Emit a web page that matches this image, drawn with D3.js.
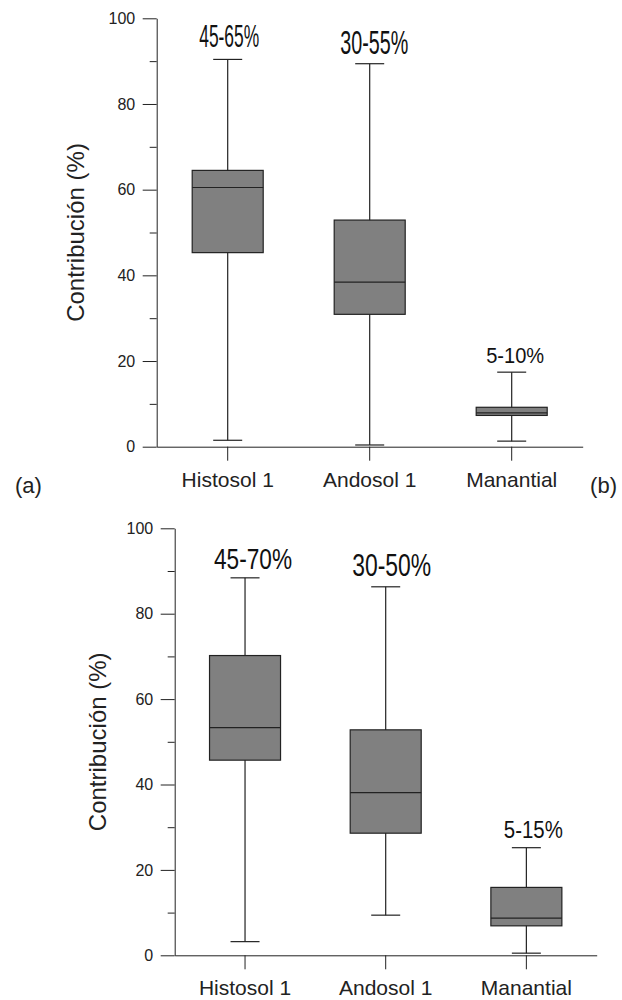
<!DOCTYPE html>
<html>
<head>
<meta charset="utf-8">
<script src="https://cdn.jsdelivr.net/npm/d3@7"></script>
<style>
  body { margin: 0; background: #fff; }
  svg { display: block; font-family: "Liberation Sans", Arial, sans-serif; }
</style>
</head>
<body>
<div id="chart"></div>
<script>
// categories shared by both panels
const categories = ["Histosol 1", "Andosol 1", "Manantial"];

// panel (a) box statistics
const topMin = [1.5, 0.4, 1.3];
const topQ1 = [45.3, 30.9, 7.3];
const topMedian = [60.5, 38.4, 7.9];
const topQ3 = [64.5, 52.9, 9.2];
const topMax = [90.4, 89.4, 17.4];
const topRanges = ["45-65%", "30-55%", "5-10%"];

// panel (b) box statistics
const botMin = [3.2, 9.4, 0.5];
const botQ1 = [45.7, 28.6, 6.9];
const botMedian = [53.3, 38.1, 8.7];
const botQ3 = [70.2, 52.8, 15.9];
const botMax = [88.4, 86.3, 25.2];
const botRanges = ["45-70%", "30-50%", "5-15%"];

const majorTicks = [0, 20, 40, 60, 80, 100];
const minorTicks = [10, 30, 50, 70, 90];

const svg = d3.select("#chart").append("svg")
    .attr("width", 622)
    .attr("height", 1000);

const ink = "#222";

function drawPanel(opt) {
    const rows = categories.map((c, i) => ({
        name: c, min: opt.min[i], q1: opt.q1[i], med: opt.median[i],
        q3: opt.q3[i], max: opt.max[i], label: opt.ranges[i], st: opt.labelStyle[i]
    }));

    const x = d3.scaleBand().domain(categories).range([opt.left, opt.right]).padding(0);
    const y = d3.scaleLinear().domain([0, 100]).range([opt.bottom, opt.top]);
    const g = svg.append("g");

    // x axis
    const xg = g.append("g")
        .attr("transform", `translate(0,${opt.bottom})`)
        .call(d3.axisBottom(x).tickSize(14).tickSizeOuter(0).tickPadding(11));
    xg.selectAll("text").attr("font-size", 21).attr("fill", ink).attr("font-family", "Liberation Sans, Arial, sans-serif");
    xg.selectAll("line, path").attr("stroke", ink);

    // y axis major + minor
    const yg = g.append("g")
        .attr("transform", `translate(${opt.left},0)`)
        .call(d3.axisLeft(y).tickValues(majorTicks).tickSize(14).tickSizeOuter(0).tickPadding(7.5));
    yg.selectAll("text").attr("font-size", 16).attr("fill", ink).attr("font-family", "Liberation Sans, Arial, sans-serif");
    yg.selectAll("line, path").attr("stroke", ink);

    const ym = g.append("g")
        .attr("transform", `translate(${opt.left},0)`)
        .call(d3.axisLeft(y).tickValues(minorTicks).tickSize(7).tickSizeOuter(0).tickFormat(""));
    ym.select(".domain").remove();
    ym.selectAll("line").attr("stroke", ink);

    // y label
    g.append("text")
        .attr("transform", `translate(${opt.yLabelX},${(opt.top + opt.bottom) / 2}) rotate(-90)`)
        .attr("text-anchor", "middle")
        .attr("font-size", 24)
        .attr("fill", ink)
        .text("Contribución (%)");

    const bw = 71, cw = 29;
    const boxes = g.append("g").selectAll("g").data(rows).join("g")
        .attr("transform", d => `translate(${x(d.name) + x.bandwidth() / 2},0)`);

    // whisker stems
    boxes.append("line")
        .attr("x1", 0).attr("x2", 0)
        .attr("y1", d => y(d.max)).attr("y2", d => y(d.min))
        .attr("stroke", ink).attr("stroke-width", 1.2);
    // caps
    boxes.selectAll(".cap").data(d => [d.min, d.max]).join("line")
        .attr("class", "cap")
        .attr("x1", -cw / 2).attr("x2", cw / 2)
        .attr("y1", v => y(v)).attr("y2", v => y(v))
        .attr("stroke", ink).attr("stroke-width", 1.2);
    // box
    boxes.append("rect")
        .attr("x", -bw / 2).attr("width", bw)
        .attr("y", d => y(d.q3)).attr("height", d => y(d.q1) - y(d.q3))
        .attr("fill", "#808080").attr("stroke", ink).attr("stroke-width", 1.2);
    // median
    boxes.append("line")
        .attr("x1", -bw / 2).attr("x2", bw / 2)
        .attr("y1", d => y(d.med)).attr("y2", d => y(d.med))
        .attr("stroke", ink).attr("stroke-width", 1.2);

    // range labels
    boxes.append("text")
        .attr("x", d => d.st.dx)
        .attr("y", d => y(d.max) - d.st.gap)
        .attr("text-anchor", "middle")
        .attr("font-family", "Liberation Sans Narrow, Liberation Sans, Arial, sans-serif")
        .attr("font-size", d => d.st.size)
        .attr("textLength", d => d.st.w)
        .attr("lengthAdjust", "spacingAndGlyphs")
        .attr("fill", "#111")
        .text(d => d.label);
}

drawPanel({
    min: topMin, q1: topQ1, median: topMedian, q3: topQ3, max: topMax, ranges: topRanges,
    left: 156.7, right: 582.7, top: 18.3, bottom: 446.7, yLabelX: 84,
    labelStyle: [
        {size: 32, w: 60, dx: 1.5, gap: 12.5},
        {size: 33, w: 68, dx: 4.5, gap: 10},
        {size: 22, w: 58, dx: 3.5, gap: 9}
    ]
});

drawPanel({
    min: botMin, q1: botQ1, median: botMedian, q3: botQ3, max: botMax, ranges: botRanges,
    left: 174.7, right: 596.7, top: 528.3, bottom: 955.3, yLabelX: 105.5,
    labelStyle: [
        {size: 29, w: 78, dx: 8, gap: 8.7},
        {size: 32, w: 79, dx: 6, gap: 10.3},
        {size: 24, w: 59, dx: 7, gap: 9.4}
    ]
});

// panel tags
svg.append("text").attr("x", 15).attr("y", 493).attr("font-size", 22).attr("fill", ink).text("(a)");
svg.append("text").attr("x", 617).attr("y", 493).attr("text-anchor", "end").attr("font-size", 22).attr("fill", ink).text("(b)");
</script>
</body>
</html>
